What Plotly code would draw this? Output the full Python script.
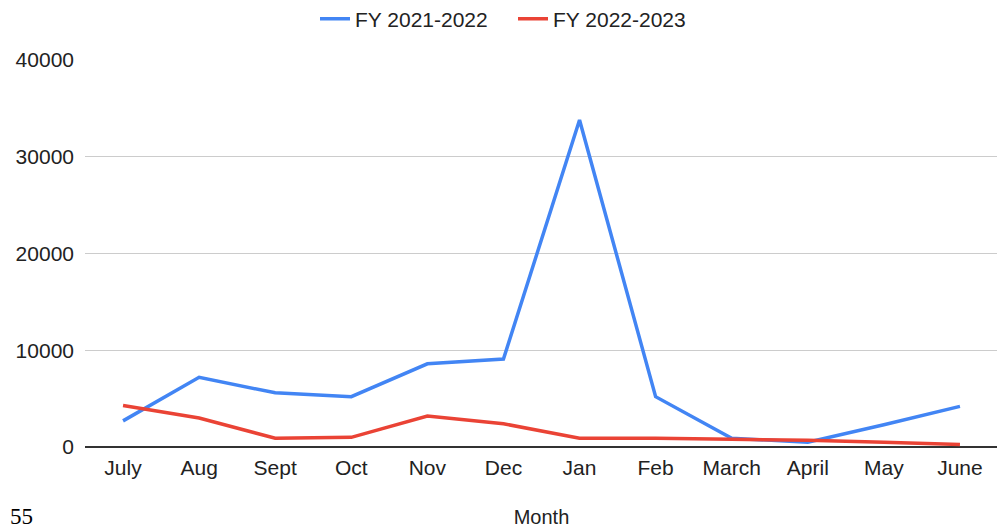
import plotly.graph_objects as go

months = ["July", "Aug", "Sept", "Oct", "Nov", "Dec", "Jan", "Feb", "March", "April", "May", "June"]
fy_2021_2022 = [2700, 7200, 5600, 5200, 8600, 9100, 33800, 5200, 900, 500, 2300, 4200]
fy_2022_2023 = [4300, 3000, 900, 1000, 3200, 2400, 900, 900, 800, 700, 500, 250]
y_ticks = [0, 10000, 20000, 30000, 40000]

FONT = "Liberation Sans, Arial, sans-serif"
# page body has an 8px margin, so the figure is drawn 8px right/down
W, H = 997, 520
ML, MR, MT, MB = 77, 7, 0, 81
PW = W - ML - MR
PH = H - MT - MB
dom_top = 1 - (52 - MT) / PH

fig = go.Figure()
fig.add_trace(go.Scatter(x=months, y=fy_2021_2022, mode="lines", name="FY 2021-2022",
                         line=dict(color="#4285f4", width=3.5)))
fig.add_trace(go.Scatter(x=months, y=fy_2022_2023, mode="lines", name="FY 2022-2023",
                         line=dict(color="#ea4335", width=3.5)))

fig.update_layout(
    width=W, height=H,
    margin=dict(l=ML, r=MR, t=MT, b=MB, autoexpand=False),
    paper_bgcolor="white", plot_bgcolor="white",
    font=dict(family=FONT, size=21, color="#222222"),
    showlegend=True,
    legend=dict(orientation="h", x=(307 - ML) / PW, xanchor="left",
                y=1 - (11 - MT) / PH, yanchor="middle",
                font=dict(size=21, color="#222222"),
                itemwidth=30, entrywidth=153, entrywidthmode="pixels",
                traceorder="normal", bgcolor="rgba(0,0,0,0)"),
    xaxis=dict(showgrid=False, ticks="", showline=False, zeroline=False,
               range=[-0.5, 11.5], automargin=False, ticklabelstandoff=6,
               tickfont=dict(size=21, color="#222222"),
               title=dict(text="Month", font=dict(size=20, color="#222222"), standoff=31)),
    yaxis=dict(range=[0, 40000], tickvals=y_ticks, ticktext=[str(v) for v in y_ticks],
               domain=[0, dom_top], automargin=False,
               showgrid=True, gridcolor="#cccccc", gridwidth=1,
               zeroline=True, zerolinecolor="#333333", zerolinewidth=2,
               showline=False, ticks="", ticklabelstandoff=10,
               tickfont=dict(size=21, color="#222222")),
)

fig.add_annotation(text="55", xref="paper", yref="paper", x=-ML / PW, y=-MB / PH,
                   xanchor="left", yanchor="bottom", showarrow=False, yshift=-3,
                   font=dict(family="Liberation Serif, Times New Roman, serif", size=23, color="#000000"))

fig.write_html("out.html")
